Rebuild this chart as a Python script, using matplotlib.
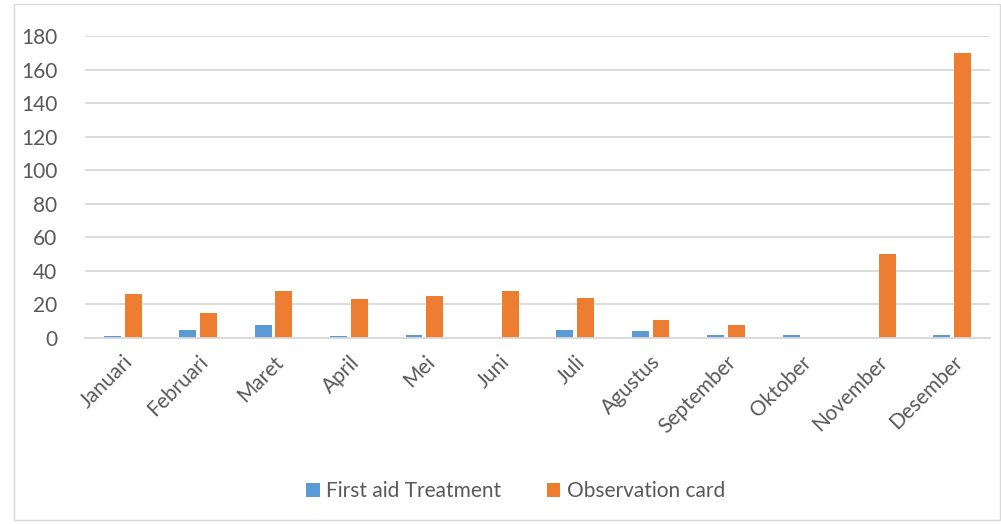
import numpy as np
import matplotlib.pyplot as plt
from matplotlib.patches import Rectangle

months = ["Januari", "Februari", "Maret", "April", "Mei", "Juni", "Juli",
          "Agustus", "September", "Oktober", "November", "Desember"]
first_aid = [1, 5, 8, 1, 2, 0, 5, 4, 2, 2, 0, 2]
observation = [26, 15, 28, 23, 25, 28, 24, 11, 8, 0, 50, 170]

plt.rcParams['font.family'] = ['Lato', 'DejaVu Sans']

fig = plt.figure(figsize=(10.01, 5.24), dpi=100)
ax = fig.add_axes([85 / 1001, 1 - 338 / 524, 905 / 1001, 302 / 524])

x = np.arange(len(months))
w = 0.225
ax.bar(x - w / 2 - 0.025, first_aid, w, color='#5B9BD5', label='First aid Treatment')
ax.bar(x + w / 2 + 0.025, observation, w, color='#ED7D31', label='Observation card')

ax.set_xlim(-0.5, len(months) - 0.5)
ax.set_ylim(0, 180)
ax.set_yticks(range(0, 181, 20))
ax.grid(axis='y', color='#d9d9d9', linewidth=1.3)
ax.set_axisbelow(True)
for s in ['left', 'right', 'top']:
    ax.spines[s].set_visible(False)
ax.spines['bottom'].set_color('#d9d9d9')
ax.spines['bottom'].set_linewidth(1.3)
ax.tick_params(length=0, labelsize=15, colors='#595959')
ax.tick_params(axis='y', pad=20)
ax.tick_params(axis='x', pad=10)
ax.set_xticks(x)
ax.set_xticklabels(months, rotation=45, ha='right', rotation_mode='anchor')

fig.legend(loc='center', bbox_to_anchor=(0.515, 1 - 491 / 524), ncol=2, frameon=False,
           fontsize=15, handlelength=0.65, handleheight=0.65, handletextpad=0.3,
           columnspacing=2.2, labelcolor='#595959')

fig.patches.append(Rectangle((14 / 1001, 4 / 524), 986 / 1001, 516 / 524,
                             transform=fig.transFigure, fill=False,
                             edgecolor='#d9d9d9', linewidth=1))

fig.savefig('out.png', dpi=100)
